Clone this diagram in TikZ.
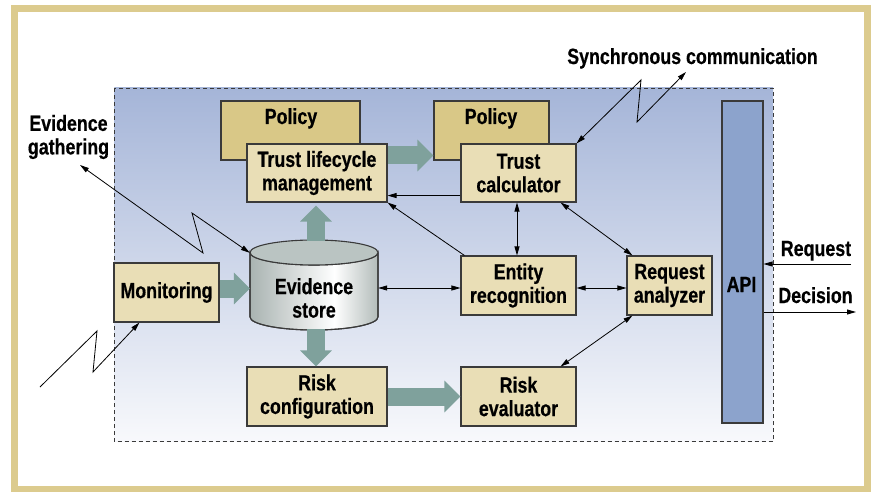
\documentclass[tikz,border=0pt]{standalone}
\usepackage{fontspec}
\newfontfamily\condf{Liberation Sans}[FakeStretch=0.81, BoldFeatures={FakeStretch=0.81, FakeBold=0.5}]
\usetikzlibrary{arrows.meta,calc}
\definecolor{frametan}{HTML}{DCCB8E}
\definecolor{poltan}{HTML}{D9C887}
\definecolor{boxtan}{HTML}{E9DEB6}
\definecolor{bigteal}{HTML}{7FA19C}
\definecolor{apiblue}{HTML}{8CA3CC}
\definecolor{bgtop}{HTML}{A5B5D8}
\definecolor{bgbot}{HTML}{F8F9FC}
\definecolor{cylg}{HTML}{A9B3B1}
\definecolor{cylr}{HTML}{B3BCBA}
\definecolor{cyltop}{HTML}{BAC4C2}
\definecolor{edgec}{HTML}{3A3A3A}
\pgfdeclarehorizontalshading{cylshade}{100bp}{color(0bp)=(cylg); color(25bp)=(cylg); color(58bp)=(white); color(75bp)=(cylr); color(100bp)=(cylr)}
\tikzset{
  txt/.style={font=\condf\bfseries\fontsize{22pt}{23.5pt}\selectfont, align=center, inner sep=0pt},
  box/.style={txt, draw=edgec, line width=1.1pt, fill=boxtan},
  polbox/.style={draw=edgec, line width=1.1pt, fill=poltan, inner sep=0pt},
  arr/.style={line width=0.8pt, -{Triangle[length=9pt,width=5pt]}},
  darr/.style={line width=0.8pt, {Triangle[length=9pt,width=5pt]}-{Triangle[length=9pt,width=5pt]}},
  big/.style={draw=bigteal, line width=18pt, -{Triangle[length=16pt,width=31pt]}}
}
\begin{document}
\begin{tikzpicture}[x=1pt,y=-1pt]
\useasboundingbox (0,0) rectangle (876,492);
\fill[white] (0,0) rectangle (876,492);
% frame
\draw[frametan, line width=7pt] (14.5,9) rectangle (867.5,489.5);
% system backdrop
\shade[top color=bgtop, bottom color=bgbot] (114.3,88) rectangle (773,441.7);
\draw[edgec, line width=0.8pt, dash pattern=on 4pt off 3pt] (114.3,88) rectangle (773,441.7);

% policy and boxes
\node[polbox, minimum width=139pt, minimum height=59pt] (pol1) at (290.5,130.5) {};
\node[txt, anchor=base] (pol1t) at (291,124) {Policy};
\node[polbox, minimum width=115pt, minimum height=59pt] (pol2) at (491.5,130.5) {};
\node[txt, anchor=base] (pol2t) at (491,124) {Policy};
\node[box, minimum width=140pt, minimum height=58pt] (tlm) at (317,173) {Trust lifecycle\\management};
\node[box, minimum width=115pt, minimum height=58pt] (tc) at (518.5,173) {Trust\\calculator};
\node[polbox, fill=apiblue, minimum width=41pt, minimum height=322pt] (api) at (742.5,262) {};
\node[txt, anchor=base] (apit) at (741.5,292) {API};
\node[box, minimum width=105pt, minimum height=59pt] (mon) at (166.5,292.5) {Monitoring};
\node[box, minimum width=115pt, minimum height=59pt] (er) at (518.5,285.5) {Entity\\recognition};
\node[box, minimum width=85pt, minimum height=59pt] (ra) at (669.5,285.5) {Request\\analyzer};
\node[box, minimum width=140pt, minimum height=59pt] (rc) at (317,396.5) {Risk\\configuration};
\node[box, minimum width=115pt, minimum height=59pt] (re) at (518.5,396.5) {Risk\\evaluator};

% evidence store cylinder
\node[minimum width=128pt, minimum height=90pt, inner sep=0pt] (store) at (314,285) {};
\shade[shading=cylshade, draw=edgec, line width=1.1pt]
  (250,252.5) -- (250,317) arc[start angle=180, end angle=0, x radius=64, y radius=13]
  -- (378,252.5) arc[start angle=0, end angle=180, x radius=64, y radius=12.5] -- cycle;
\draw[edgec, line width=1.1pt]
  (250,252.5) -- (250,317) arc[start angle=180, end angle=0, x radius=64, y radius=13]
  -- (378,252.5);
\draw[fill=cyltop, draw=edgec, line width=1.1pt] (314,252.5) ellipse[x radius=64, y radius=12.5];
\node[txt] (storet) at (314,298) {Evidence\\store};

% big flow arrows
\draw[big] ([yshift=17.5pt]tlm.east) -- ([yshift=-25pt]pol2.west);
\draw[big] ([xshift=2pt,yshift=-1pt]store.north) -- ([xshift=-1pt,yshift=-3pt]tlm.south);
\draw[big] ([yshift=4pt]mon.east) -- ([yshift=-3.5pt]store.west);
\draw[big] ([xshift=2pt,yshift=1pt]store.south) -- ([xshift=-1pt]rc.north);
\draw[big] (rc.east) -- (re.west);

% thin arrows
\draw[arr] ([yshift=7pt]tc.south west) -- ([yshift=7pt]tlm.south east);
\draw[arr] ([xshift=4pt]er.north west) -- (tlm.south east);
\draw[darr] ([xshift=-1.5pt]tc.south) -- ([xshift=-1.5pt]er.north);
\draw[darr] ([xshift=-16pt]tc.south east) -- ([xshift=6pt]ra.north west);
\draw[darr] ($(store.east |- er.west)+(0,2.5)$) -- ($(er.west)+(0,2.5)$);
\draw[darr] ([yshift=-2.5pt]er.east) -- ([yshift=-2.5pt]ra.west);
\draw[darr] ([xshift=6pt]ra.south west) -- ([xshift=-16pt]re.north east);

% external links
\coordinate (reqin) at (851,264);
\coordinate (decout) at (856,312);
\draw[arr] (reqin) -- (api.east |- reqin);
\draw[arr] (api.east |- decout) -- (decout);
\coordinate (eg1) at (80,165);
\draw[darr] (eg1) -- (203,253) -- (192,213) -- ([yshift=-13pt]store.north west);
\coordinate (m1) at (40,387);
\draw[arr] (m1) -- (97,331) -- (93,372) -- ([xshift=26pt]mon.south west);
\coordinate (s1) at (686,72);
\draw[darr] (tc.north east) -- (641,80) -- (637,122) -- (s1);

% labels
\node[txt] (evg) at (68.5,137) {Evidence\\gathering};
\node[txt, anchor=base] (sync) at (692.5,64) {Synchronous communication};
\node[txt, anchor=base] (req) at (816,256) {Request};
\node[txt, anchor=base] (dec) at (815.5,303) {Decision};
\end{tikzpicture}
\end{document}
